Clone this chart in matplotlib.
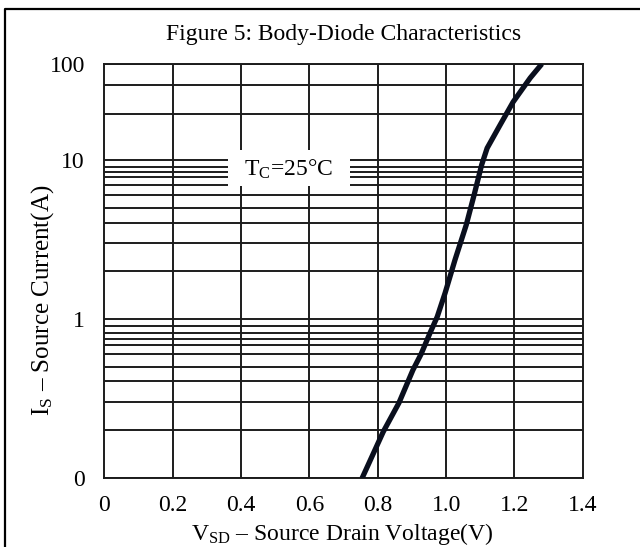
import numpy as np
import matplotlib
matplotlib.use('Agg')
import matplotlib.pyplot as plt
from matplotlib.lines import Line2D
from matplotlib.patches import Rectangle

plt.rcParams['font.family'] = ['Liberation Serif', 'DejaVu Serif']
plt.rcParams['mathtext.fontset'] = 'custom'
plt.rcParams['mathtext.rm'] = 'Liberation Serif'
plt.rcParams['mathtext.it'] = 'Liberation Serif:italic'

# body diode curve
vsd = [0.754, 0.816, 0.862, 0.903, 0.927, 0.953, 0.974, 0.997, 1.026,
       1.059, 1.082, 1.104, 1.120, 1.158, 1.196, 1.246, 1.280]
i_s = [0.1, 0.196, 0.298, 0.48, 0.605, 0.82, 1.035, 1.46, 2.36,
       3.92, 6.05, 9.33, 13.3, 23.2, 40.2, 71.5, 100.0]

x_ticks = [0, 0.2, 0.4, 0.6, 0.8, 1.0, 1.2, 1.4]
x_labels = ['0', '0.2', '0.4', '0.6', '0.8', '1.0', '1.2', '1.4']
y_ticks = [0.1, 1, 10, 100]
y_labels = ['0', '1', '10', '100']
h_grid = [100, 60, 30, 10, 9.1, 8.4, 7.85, 7, 6, 5, 4, 3, 2,
          1, 0.9, 0.82, 0.75, 0.69, 0.6, 0.5, 0.41, 0.3, 0.2, 0.1]

# the top decade is squeezed on the original sheet
K = 96 / 159


def fwd(v):
    v = np.log10(np.clip(v, 1e-6, None))
    return np.where(v <= 1, v, 1 + (v - 1) * K)


def inv(u):
    u = np.asarray(u, dtype=float)
    return np.where(u <= 1, 10 ** u, 10 ** (1 + (u - 1) / K))


fig = plt.figure(figsize=(6.4, 5.47), dpi=100)
ax = fig.add_axes([0.163, 0.1256, 0.7477, 0.7575])
ax.set_yscale('function', functions=(fwd, inv))
ax.set_xlim(0, 1.4)
ax.set_ylim(0.1, 100)

gc = '#1c1c1c'
for x in x_ticks[1:-1]:
    ax.axvline(x, color=gc, lw=1.4, zorder=1)
for y in h_grid:
    ax.axhline(y, color=gc, lw=1.4, zorder=1)
for s in ax.spines.values():
    s.set_color(gc)
    s.set_linewidth(1.4)

# white patch behind the temperature note
ax.add_patch(Rectangle((0.259, 0.706), 0.255, 0.087, transform=ax.transAxes,
                       facecolor='white', edgecolor='none', zorder=2))
ax.text(0.385, 0.745, r'T$_\mathregular{C}$=25°C', transform=ax.transAxes,
        fontsize=17, ha='center', va='center', zorder=2.5)

ax.plot(vsd, i_s, color='#0a0f1e', lw=3.8, solid_capstyle='butt',
        solid_joinstyle='round', zorder=3)

ax.set_xticks(x_ticks)
ax.set_xticklabels(x_labels)
ax.set_yticks(y_ticks)
ax.set_yticklabels(y_labels)
ax.minorticks_off()
ax.tick_params(length=0, labelsize=17, colors='black')
ax.tick_params(axis='x', pad=12)
ax.tick_params(axis='y', pad=14)

ax.set_title('Figure 5: Body-Diode Characteristics', fontsize=17, pad=17)
ax.set_xlabel(r'V$_\mathregular{SD}$ – Source Drain Voltage(V)', fontsize=17)
ax.set_ylabel(r'I$_\mathregular{S}$ – Source Current(A)', fontsize=18)
ax.xaxis.set_label_coords(0.498, -0.103)
ax.yaxis.set_label_coords(-0.10, 0.43)

# outer frame of the datasheet box
fig.add_artist(Line2D([5 / 640, 5 / 640, 1.0], [0.0, 1 - 9 / 547, 1 - 9 / 547],
                      transform=fig.transFigure, color='black', lw=1.6))

fig.savefig('out.png', dpi=100)
